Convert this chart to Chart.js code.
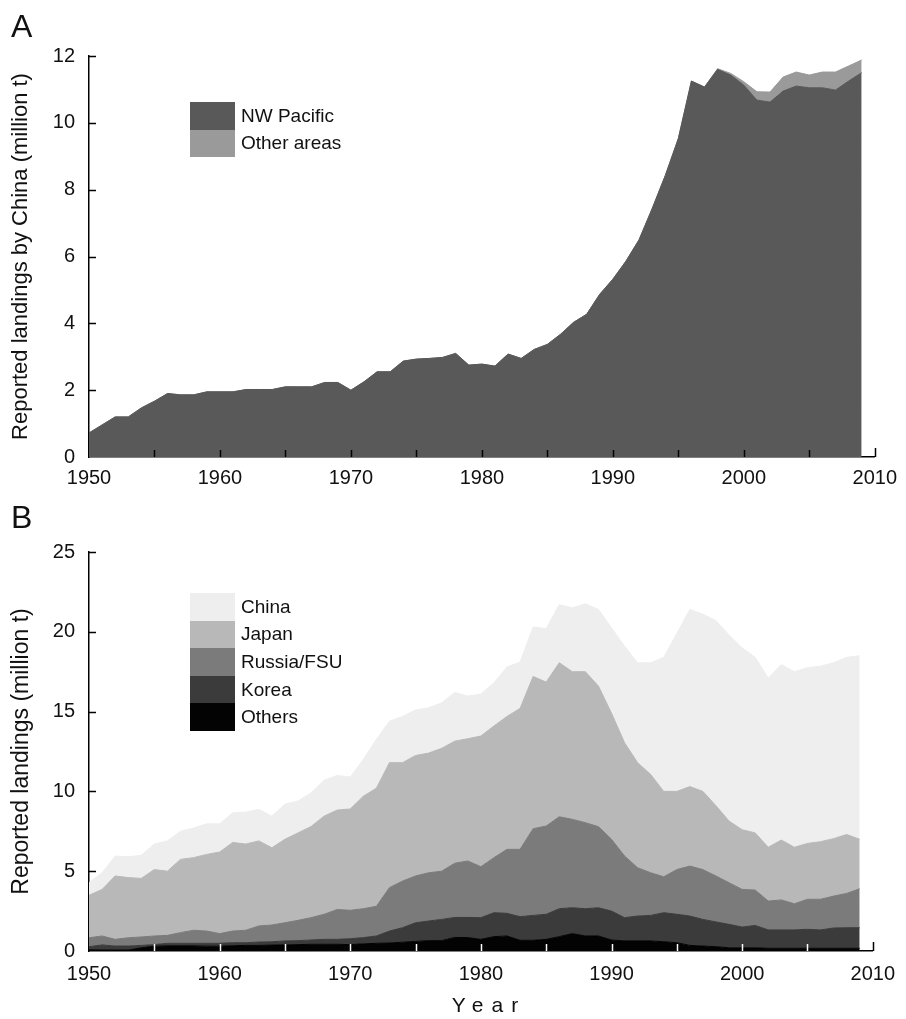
<!DOCTYPE html>
<html>
<head>
<meta charset="utf-8">
<script src="https://cdn.jsdelivr.net/npm/chart.js@4.4.1/dist/chart.umd.min.js"></script>
<style>
    body { margin: 0; background: #fff; width: 906px; height: 1019px; position: relative; overflow: hidden;
           font-family: "Liberation Sans", Arial, sans-serif; color: #111; }
    .panel { position: absolute; left: 0; width: 906px; }
    #wrapA { top: 0; height: 500px; }
    #wrapB { top: 500px; height: 519px; }
    .tag { position: absolute; left: 11px; font-size: 32px; line-height: 1;
           font-family: "Liberation Sans Narrow", "Liberation Sans", sans-serif; }
    .legend { position: absolute; left: 190px; }
    .row { display: flex; align-items: center; height: 27.6px; }
    .sw { width: 45px; height: 100%; margin-right: 6px; }
    .lbl { font-size: 19px; }
    #year { position: absolute; top: 993px; left: 485px; transform: translateX(-50%);
            font-size: 21px; letter-spacing: 8px; padding-left: 8px; }
</style>
</head>
<body>
<div class="panel" id="wrapA"><canvas id="chartA"></canvas></div>
<div class="panel" id="wrapB"><canvas id="chartB"></canvas></div>
<div class="tag" style="top:10px">A</div>
<div class="tag" style="top:501px">B</div>
<div class="legend" id="legendA" style="top:102px"></div>
<div class="legend" id="legendB" style="top:593px"></div>
<div id="year">Year</div>

<script>
// --- DATA (million t), one value per year ---
const years = [1950, 1951, 1952, 1953, 1954, 1955, 1956, 1957, 1958, 1959,
               1960, 1961, 1962, 1963, 1964, 1965, 1966, 1967, 1968, 1969,
               1970, 1971, 1972, 1973, 1974, 1975, 1976, 1977, 1978, 1979,
               1980, 1981, 1982, 1983, 1984, 1985, 1986, 1987, 1988, 1989,
               1990, 1991, 1992, 1993, 1994, 1995, 1996, 1997, 1998, 1999,
               2000, 2001, 2002, 2003, 2004, 2005, 2006, 2007, 2008, 2009];

// panel A: landings by China
const nwPacific = [0.72, 0.96, 1.2, 1.2, 1.47, 1.67, 1.9, 1.86, 1.86, 1.95,
                   1.95, 1.95, 2.02, 2.02, 2.02, 2.1, 2.1, 2.1, 2.23, 2.23,
                   2.0, 2.25, 2.55, 2.55, 2.87, 2.93, 2.95, 2.98, 3.1, 2.75,
                   2.78, 2.72, 3.08, 2.95, 3.22, 3.37, 3.67, 4.03, 4.27, 4.87,
                   5.32, 5.86, 6.5, 7.43, 8.42, 9.53, 11.25, 11.07, 11.6, 11.43,
                   11.13, 10.68, 10.62, 10.95, 11.1, 11.05, 11.05, 10.98, 11.25, 11.5];
const otherAreas = [0, 0, 0, 0, 0, 0, 0, 0, 0, 0,
                    0, 0, 0, 0, 0, 0, 0, 0, 0, 0,
                    0, 0, 0, 0, 0, 0, 0, 0, 0, 0,
                    0, 0, 0, 0, 0, 0, 0, 0, 0, 0,
                    0, 0, 0, 0, 0, 0, 0, 0, 0.02, 0.05,
                    0.1, 0.25, 0.3, 0.42, 0.42, 0.38, 0.47, 0.54, 0.45, 0.38];

// panel B: landings by country
const others = [0.08, 0.06, 0.06, 0.06, 0.2, 0.3, 0.32, 0.32, 0.32, 0.3,
                0.3, 0.33, 0.35, 0.35, 0.37, 0.38, 0.4, 0.42, 0.42, 0.42,
                0.4, 0.45, 0.48, 0.5, 0.55, 0.6, 0.65, 0.65, 0.85, 0.84,
                0.73, 0.9, 0.94, 0.67, 0.67, 0.73, 0.9, 1.09, 0.94, 0.94,
                0.69, 0.63, 0.63, 0.63, 0.58, 0.52, 0.35, 0.31, 0.27, 0.2,
                0.2, 0.2, 0.17, 0.17, 0.17, 0.17, 0.17, 0.17, 0.17, 0.17];
const korea = [0.19, 0.32, 0.25, 0.25, 0.15, 0.1, 0.16, 0.16, 0.16, 0.18,
               0.18, 0.19, 0.17, 0.21, 0.21, 0.25, 0.25, 0.27, 0.31, 0.31,
               0.37, 0.39, 0.46, 0.75, 0.91, 1.17, 1.23, 1.33, 1.25, 1.26,
               1.36, 1.5, 1.42, 1.48, 1.56, 1.57, 1.75, 1.62, 1.71, 1.77,
               1.81, 1.46, 1.56, 1.6, 1.82, 1.78, 1.84, 1.67, 1.55, 1.47,
               1.3, 1.4, 1.15, 1.15, 1.15, 1.19, 1.15, 1.27, 1.29, 1.29];
const russia = [0.56, 0.56, 0.42, 0.52, 0.53, 0.54, 0.5, 0.67, 0.82, 0.77,
                0.61, 0.73, 0.78, 1.01, 1.05, 1.14, 1.27, 1.4, 1.57, 1.87,
                1.78, 1.81, 1.86, 2.72, 2.92, 2.93, 3.02, 3.02, 3.4, 3.54,
                3.19, 3.45, 4.01, 4.22, 5.43, 5.53, 5.76, 5.54, 5.39, 5.08,
                4.5, 3.86, 3.03, 2.67, 2.25, 2.8, 3.13, 3.12, 2.88, 2.61,
                2.36, 2.22, 1.81, 1.88, 1.64, 1.88, 1.92, 2.0, 2.15, 2.44];
const japan = [2.66, 2.92, 3.97, 3.77, 3.67, 4.16, 4.02, 4.59, 4.55, 4.8,
               5.11, 5.55, 5.4, 5.33, 4.84, 5.23, 5.48, 5.71, 6.15, 6.23,
               6.35, 7.05, 7.4, 7.83, 7.42, 7.55, 7.5, 7.7, 7.65, 7.66,
               8.19, 8.25, 8.33, 8.83, 9.54, 9.02, 9.65, 9.25, 9.46, 8.81,
               7.9, 7.1, 6.58, 6.16, 5.35, 4.9, 4.98, 4.9, 4.4, 3.86,
               3.74, 3.58, 3.37, 3.75, 3.54, 3.5, 3.61, 3.6, 3.69, 3.1];
const china = [0.79, 1.04, 1.25, 1.3, 1.45, 1.6, 1.9, 1.76, 1.85, 1.92,
               1.77, 1.86, 2.0, 1.97, 1.98, 2.2, 2.0, 2.1, 2.25, 2.17,
               2.0, 2.3, 3.06, 2.6, 2.9, 2.85, 2.84, 2.85, 3.05, 2.67,
               2.63, 2.7, 3.1, 2.9, 3.1, 3.35, 3.64, 4.0, 4.25, 4.8,
               5.35, 6.05, 6.26, 7.0, 8.4, 9.9, 11.1, 11.1, 11.6, 11.66,
               11.4, 11.0, 10.6, 11.0, 11.0, 11.01, 11.0, 11.02, 11.1, 11.5];

const xTickLabels = [1950, 1960, 1970, 1980, 1990, 2000, 2010];
const xMinorTicks = [1955, 1960, 1965, 1970, 1975, 1980, 1985, 1990, 1995, 2000, 2005, 2010];

// --- HELPERS ---
const FONT = '"Liberation Sans", Arial, sans-serif';

function toPoints(values) {
    return values.map((v, i) => ({ x: years[i], y: v }));
}

function layer(label, values, color, first) {
    return {
        label: label,
        data: toPoints(values),
        backgroundColor: color,
        borderColor: color,
        borderWidth: 1,
        pointRadius: 0,
        tension: 0,
        fill: first ? 'origin' : '-1'
    };
}

// inward tick marks, drawn through the chart's own scales
const innerTicks = {
    id: 'innerTicks',
    afterDraw(chart, args, opts) {
        const { ctx, chartArea: a, scales: { x, y } } = chart;
        ctx.save();
        ctx.lineWidth = 1.5;
        ctx.strokeStyle = '#000';
        y.ticks.forEach(t => {
            if (t.value === 0) return;
            const py = Math.round(y.getPixelForValue(t.value)) + 0.5;
            ctx.beginPath();
            ctx.moveTo(a.left, py);
            ctx.lineTo(a.left + 7, py);
            ctx.stroke();
        });
        xMinorTicks.forEach(yr => {
            const px = Math.round(x.getPixelForValue(yr)) + 0.5;
            ctx.strokeStyle = yr < 2010 ? opts.color : '#000';
            ctx.beginPath();
            ctx.moveTo(px, a.bottom);
            ctx.lineTo(px, a.bottom - (yr < 2010 ? 7 : 9));
            ctx.stroke();
        });
        ctx.restore();
    }
};

function makeChart(id, datasets, yMax, yStep, yTitle, titleSize, pad, xHeight, xPad, tickColor) {
    return new Chart(document.getElementById(id), {
        type: 'line',
        data: { datasets: datasets },
        options: {
            responsive: true,
            maintainAspectRatio: false,
            animation: false,
            layout: { padding: pad },
            plugins: { legend: { display: false }, tooltip: { enabled: false }, innerTicks: { color: tickColor } },
            scales: {
                x: {
                    type: 'linear', min: 1950, max: 2010, z: 1,
                    grid: { display: false, drawTicks: false },
                    border: { display: true, color: '#000', width: 1.5 },
                    afterBuildTicks: s => { s.ticks = xTickLabels.map(v => ({ value: v })); },
                    afterFit: s => { s.height = xHeight; },
                    ticks: { color: '#111', padding: xPad, maxRotation: 0, autoSkip: false,
                             font: { family: FONT, size: 20 }, callback: v => String(v) }
                },
                y: {
                    min: 0, max: yMax, stacked: true, z: 1,
                    grid: { display: false, drawTicks: false },
                    border: { display: true, color: '#000', width: 1.5 },
                    afterFit: s => { s.width = 89; },
                    ticks: { stepSize: yStep, color: '#111', padding: 14,
                             font: { family: FONT, size: 20 } },
                    title: { display: true, text: yTitle, color: '#111', padding: { top: 8, bottom: 0 },
                             font: { family: FONT, size: titleSize } }
                }
            }
        },
        plugins: [innerTicks]
    });
}

function buildLegend(id, items) {
    document.getElementById(id).innerHTML = items.map(it =>
        `<div class="row"><div class="sw" style="background:${it[1]}"></div><span class="lbl">${it[0]}</span></div>`
    ).join('');
}

// --- CHARTS ---
const colA = { nw: '#595959', other: '#9a9a9a' };
const colB = { china: '#eeeeee', japan: '#b8b8b8', russia: '#7b7b7b', korea: '#3b3b3b', others: '#030303' };

makeChart('chartA', [
    layer('NW Pacific', nwPacific, colA.nw, true),
    layer('Other areas', otherAreas, colA.other, false)
], 12, 2, 'Reported landings by China (million t)', 22,
   { top: 56, right: 24, bottom: 3, left: 0 }, 40, 9, '#000');

makeChart('chartB', [
    layer('Others', others, colB.others, true),
    layer('Korea', korea, colB.korea, false),
    layer('Russia/FSU', russia, colB.russia, false),
    layer('Japan', japan, colB.japan, false),
    layer('China', china, colB.china, false)
], 25, 5, 'Reported landings (million t)', 23,
   { top: 52, right: 24, bottom: 0, left: 0 }, 68, 11, '#fff');

buildLegend('legendA', [['NW Pacific', colA.nw], ['Other areas', colA.other]]);
buildLegend('legendB', [['China', colB.china], ['Japan', colB.japan], ['Russia/FSU', colB.russia],
                        ['Korea', colB.korea], ['Others', colB.others]]);
</script>
</body>
</html>
